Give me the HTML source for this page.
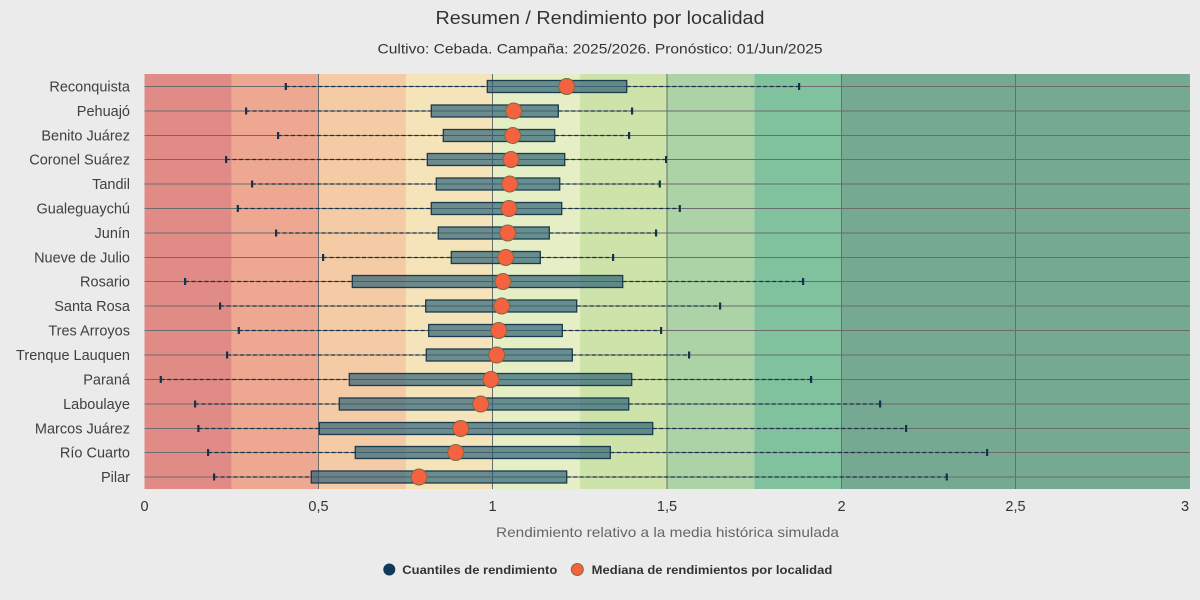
<!DOCTYPE html>
<html>
<head>
<meta charset="utf-8">
<style>
html,body{margin:0;padding:0;background:#ebebeb;}
svg{display:block;}
text{font-family:"Liberation Sans","DejaVu Sans",sans-serif;}
</style>
</head>
<body>
<svg width="1200" height="600" viewBox="0 0 1200 600" xmlns="http://www.w3.org/2000/svg">
<rect x="0" y="0" width="1200" height="600" fill="#ebebeb"/>

<!-- Title -->
<text x="600" y="24" text-anchor="middle" font-size="18" fill="#333" textLength="329" lengthAdjust="spacingAndGlyphs">Resumen / Rendimiento por localidad</text>
<text x="600" y="53.5" text-anchor="middle" font-size="14" fill="#333" textLength="445" lengthAdjust="spacingAndGlyphs">Cultivo: Cebada. Campaña: 2025/2026. Pronóstico: 01/Jun/2025</text>

<!-- Bands -->
<g>
<rect x="144.5" y="74" width="87.1" height="415" fill="#e08b86"/>
<rect x="231.6" y="74" width="87.2" height="415" fill="#eea892"/>
<rect x="318.8" y="74" width="87.1" height="415" fill="#f4cba5"/>
<rect x="405.9" y="74" width="87.1" height="415" fill="#f5e4b9"/>
<rect x="493" y="74" width="87.1" height="415" fill="#e5eec4"/>
<rect x="580.1" y="74" width="87.2" height="415" fill="#cde3a9"/>
<rect x="667.3" y="74" width="87.1" height="415" fill="#abd3a5"/>
<rect x="754.4" y="74" width="87.1" height="415" fill="#80c29e"/>
<rect x="841.5" y="74" width="348.5" height="415" fill="#75a991"/>
</g>

<!-- Grid lines -->
<g stroke="#6c6c6c" stroke-width="1">
<line x1="318.5" y1="74" x2="318.5" y2="489"/>
<line x1="492.5" y1="74" x2="492.5" y2="489"/>
<line x1="667" y1="74" x2="667" y2="489"/>
<line x1="841.5" y1="74" x2="841.5" y2="489"/>
<line x1="1015.5" y1="74" x2="1015.5" y2="489"/>
<line x1="1189.5" y1="74" x2="1189.5" y2="489" stroke="#9a9a9a"/>
<line x1="144.5" y1="86.5" x2="1190" y2="86.5"/>
<line x1="144.5" y1="111" x2="1190" y2="111"/>
<line x1="144.5" y1="135.5" x2="1190" y2="135.5"/>
<line x1="144.5" y1="159.5" x2="1190" y2="159.5"/>
<line x1="144.5" y1="184" x2="1190" y2="184"/>
<line x1="144.5" y1="208.5" x2="1190" y2="208.5"/>
<line x1="144.5" y1="233" x2="1190" y2="233"/>
<line x1="144.5" y1="257.5" x2="1190" y2="257.5"/>
<line x1="144.5" y1="281.5" x2="1190" y2="281.5"/>
<line x1="144.5" y1="306" x2="1190" y2="306"/>
<line x1="144.5" y1="330.5" x2="1190" y2="330.5"/>
<line x1="144.5" y1="355" x2="1190" y2="355"/>
<line x1="144.5" y1="379.5" x2="1190" y2="379.5"/>
<line x1="144.5" y1="404" x2="1190" y2="404"/>
<line x1="144.5" y1="428.5" x2="1190" y2="428.5"/>
<line x1="144.5" y1="452.5" x2="1190" y2="452.5"/>
<line x1="144.5" y1="477" x2="1190" y2="477"/>
</g>

<!-- Whiskers (dashed) -->
<g stroke="#14324a" stroke-width="1.3" stroke-dasharray="4,2.5">
<line x1="285.7" y1="86.5" x2="487.3" y2="86.5"/><line x1="626.7" y1="86.5" x2="799" y2="86.5"/>
<line x1="246" y1="111" x2="431.3" y2="111"/><line x1="558.3" y1="111" x2="632" y2="111"/>
<line x1="278" y1="135.5" x2="443.3" y2="135.5"/><line x1="554.7" y1="135.5" x2="629" y2="135.5"/>
<line x1="226" y1="159.5" x2="427.3" y2="159.5"/><line x1="564.7" y1="159.5" x2="666" y2="159.5"/>
<line x1="252" y1="184" x2="436.3" y2="184"/><line x1="559.7" y1="184" x2="659.7" y2="184"/>
<line x1="237.7" y1="208.5" x2="431.3" y2="208.5"/><line x1="561.7" y1="208.5" x2="679.7" y2="208.5"/>
<line x1="276" y1="233" x2="438.3" y2="233"/><line x1="549.3" y1="233" x2="656" y2="233"/>
<line x1="323" y1="257.5" x2="451.3" y2="257.5"/><line x1="540.3" y1="257.5" x2="613" y2="257.5"/>
<line x1="185" y1="281.5" x2="352.3" y2="281.5"/><line x1="622.7" y1="281.5" x2="803" y2="281.5"/>
<line x1="220" y1="306" x2="425.7" y2="306"/><line x1="576.7" y1="306" x2="720" y2="306"/>
<line x1="238.7" y1="330.5" x2="428.7" y2="330.5"/><line x1="562.3" y1="330.5" x2="661" y2="330.5"/>
<line x1="227" y1="355" x2="426.3" y2="355"/><line x1="572.3" y1="355" x2="689" y2="355"/>
<line x1="160.7" y1="379.5" x2="349.3" y2="379.5"/><line x1="631.7" y1="379.5" x2="811" y2="379.5"/>
<line x1="195" y1="404" x2="339.3" y2="404"/><line x1="628.7" y1="404" x2="880" y2="404"/>
<line x1="198.3" y1="428.5" x2="319.3" y2="428.5"/><line x1="652.7" y1="428.5" x2="906" y2="428.5"/>
<line x1="208" y1="452.5" x2="355.3" y2="452.5"/><line x1="610.3" y1="452.5" x2="987" y2="452.5"/>
<line x1="214" y1="477" x2="311.3" y2="477"/><line x1="566.7" y1="477" x2="946.7" y2="477"/>
</g>

<!-- Whisker caps -->
<g fill="#14324a">
<rect x="284.7" y="83" width="2.2" height="7"/><rect x="798" y="83" width="2.2" height="7"/>
<rect x="245" y="107.5" width="2.2" height="7"/><rect x="631" y="107.5" width="2.2" height="7"/>
<rect x="277" y="132" width="2.2" height="7"/><rect x="628" y="132" width="2.2" height="7"/>
<rect x="225" y="156" width="2.2" height="7"/><rect x="665" y="156" width="2.2" height="7"/>
<rect x="251" y="180.5" width="2.2" height="7"/><rect x="658.7" y="180.5" width="2.2" height="7"/>
<rect x="236.7" y="205" width="2.2" height="7"/><rect x="678.7" y="205" width="2.2" height="7"/>
<rect x="275" y="229.5" width="2.2" height="7"/><rect x="655" y="229.5" width="2.2" height="7"/>
<rect x="322" y="254" width="2.2" height="7"/><rect x="612" y="254" width="2.2" height="7"/>
<rect x="184" y="278" width="2.2" height="7"/><rect x="802" y="278" width="2.2" height="7"/>
<rect x="219" y="302.5" width="2.2" height="7"/><rect x="719" y="302.5" width="2.2" height="7"/>
<rect x="237.7" y="327" width="2.2" height="7"/><rect x="660" y="327" width="2.2" height="7"/>
<rect x="226" y="351.5" width="2.2" height="7"/><rect x="688" y="351.5" width="2.2" height="7"/>
<rect x="159.7" y="376" width="2.2" height="7"/><rect x="810" y="376" width="2.2" height="7"/>
<rect x="194" y="400.5" width="2.2" height="7"/><rect x="879" y="400.5" width="2.2" height="7"/>
<rect x="197.3" y="425" width="2.2" height="7"/><rect x="905" y="425" width="2.2" height="7"/>
<rect x="207" y="449" width="2.2" height="7"/><rect x="986" y="449" width="2.2" height="7"/>
<rect x="213" y="473.5" width="2.2" height="7"/><rect x="945.7" y="473.5" width="2.2" height="7"/>
</g>

<!-- Boxes -->
<g fill="rgb(35,90,115)" fill-opacity="0.65" stroke="#1a3b4e" stroke-width="1.3">
<rect x="487.3" y="80.5" width="139.4" height="12"/>
<rect x="431.3" y="105" width="127" height="12"/>
<rect x="443.3" y="129.5" width="111.4" height="12"/>
<rect x="427.3" y="153.5" width="137.4" height="12"/>
<rect x="436.3" y="178" width="123.4" height="12"/>
<rect x="431.3" y="202.5" width="130.4" height="12"/>
<rect x="438.3" y="227" width="111" height="12"/>
<rect x="451.3" y="251.5" width="89" height="12"/>
<rect x="352.3" y="275.5" width="270.4" height="12"/>
<rect x="425.7" y="300" width="151" height="12"/>
<rect x="428.7" y="324.5" width="133.6" height="12"/>
<rect x="426.3" y="349" width="146" height="12"/>
<rect x="349.3" y="373.5" width="282.4" height="12"/>
<rect x="339.3" y="398" width="289.4" height="12"/>
<rect x="319.3" y="422.5" width="333.4" height="12"/>
<rect x="355.3" y="446.5" width="255" height="12"/>
<rect x="311.3" y="471" width="255.4" height="12"/>
</g>

<!-- Medians -->
<g fill="#f4623f" stroke="#7e6a48" stroke-width="1">
<circle cx="566.7" cy="86.5" r="8"/>
<circle cx="513.7" cy="111" r="8"/>
<circle cx="512.7" cy="135.5" r="8"/>
<circle cx="511" cy="159.5" r="8"/>
<circle cx="509.7" cy="184" r="8"/>
<circle cx="509" cy="208.5" r="8"/>
<circle cx="507.7" cy="233" r="8"/>
<circle cx="505.7" cy="257.5" r="8"/>
<circle cx="503" cy="281.5" r="8"/>
<circle cx="501.7" cy="306" r="8"/>
<circle cx="498.7" cy="330.5" r="8"/>
<circle cx="496.7" cy="355" r="8"/>
<circle cx="491" cy="379.5" r="8"/>
<circle cx="480.7" cy="404" r="8"/>
<circle cx="460.7" cy="428.5" r="8"/>
<circle cx="455.7" cy="452.5" r="8"/>
<circle cx="419" cy="477" r="8"/>
</g>

<!-- Y labels -->
<g font-size="14.5" fill="#404040" text-anchor="end">
<text x="130" y="91.5">Reconquista</text>
<text x="130" y="116">Pehuajó</text>
<text x="130" y="140.5">Benito Juárez</text>
<text x="130" y="164.5">Coronel Suárez</text>
<text x="130" y="189">Tandil</text>
<text x="130" y="213.5">Gualeguaychú</text>
<text x="130" y="238">Junín</text>
<text x="130" y="262.5">Nueve de Julio</text>
<text x="130" y="286.5">Rosario</text>
<text x="130" y="311">Santa Rosa</text>
<text x="130" y="335.5">Tres Arroyos</text>
<text x="130" y="360">Trenque Lauquen</text>
<text x="130" y="384.5">Paraná</text>
<text x="130" y="409">Laboulaye</text>
<text x="130" y="433.5">Marcos Juárez</text>
<text x="130" y="457.5">Río Cuarto</text>
<text x="130" y="482">Pilar</text>
</g>

<!-- X tick labels -->
<g font-size="14.5" fill="#333" text-anchor="middle">
<text x="144.5" y="511">0</text>
<text x="318.5" y="511">0,5</text>
<text x="492.5" y="511">1</text>
<text x="667" y="511">1,5</text>
<text x="841.5" y="511">2</text>
<text x="1015.5" y="511">2,5</text>
<text x="1185" y="511">3</text>
</g>

<!-- X axis title -->
<text x="667.5" y="537" text-anchor="middle" font-size="14" fill="#666" textLength="343" lengthAdjust="spacingAndGlyphs">Rendimiento relativo a la media histórica simulada</text>

<!-- Legend -->
<circle cx="389.3" cy="569.5" r="6" fill="#0f3a5c"/>
<text x="402.3" y="574" font-size="12" font-weight="bold" fill="#333" textLength="155" lengthAdjust="spacingAndGlyphs">Cuantiles de rendimiento</text>
<circle cx="577.3" cy="569.5" r="6" fill="#f4623f" stroke="#7e6a48" stroke-width="1"/>
<text x="591.7" y="574" font-size="12" font-weight="bold" fill="#333" textLength="240.6" lengthAdjust="spacingAndGlyphs">Mediana de rendimientos por localidad</text>
</svg>
</body>
</html>
